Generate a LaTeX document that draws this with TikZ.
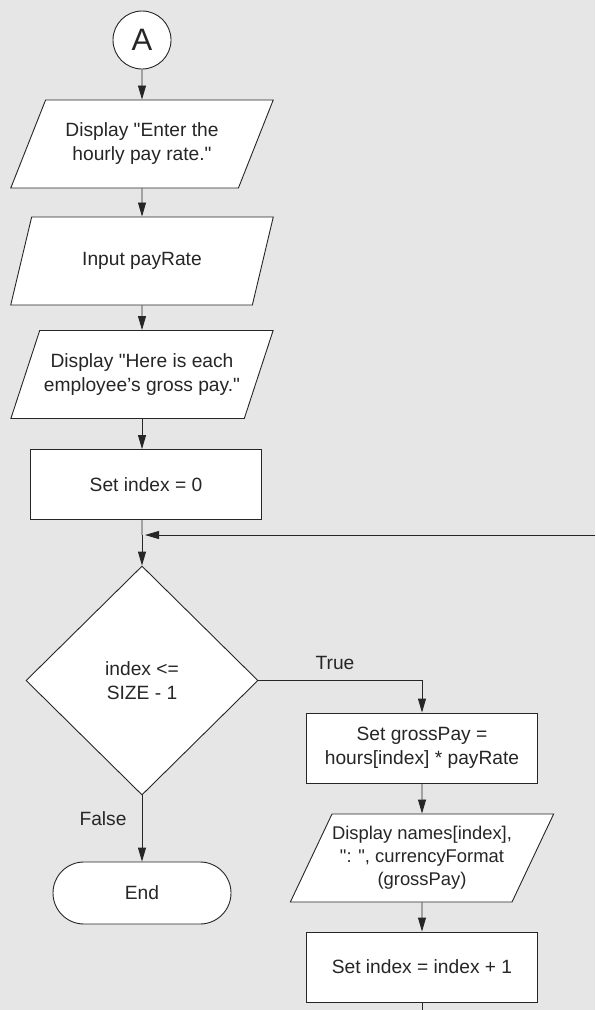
\documentclass[tikz,border=0pt]{standalone}
\usepackage{fontspec}
\setmainfont{Liberation Sans}[Ligatures=TeXOff]
\usetikzlibrary{shapes.geometric,arrows.meta}
\definecolor{bggray}{HTML}{E6E6E6}
\definecolor{ink}{HTML}{262626}

\begin{document}
\begin{tikzpicture}[x=1pt,y=-1pt,
  font=\fontsize{19.2}{24}\selectfont,
  every node/.style={text=ink},
  box/.style={draw=ink,fill=white,line width=0.9pt,inner sep=0pt,align=center},
  proc/.style={box,rectangle,minimum width=231pt,minimum height=70pt},
  io/.style={box,trapezium,trapezium left angle=56.6,trapezium right angle=123.4,
    trapezium stretches=true,minimum width=263pt,minimum height=88pt},
  decision/.style={box,diamond,minimum width=232pt,minimum height=229pt},
  term/.style={box,rectangle,rounded corners=31pt,minimum width=178pt,minimum height=62pt},
  conn/.style={box,circle,minimum size=58pt,font=\fontsize{31}{32}\selectfont},
  wire/.style={draw=ink,line width=0.9pt},
  flow/.style={wire,-{Triangle[length=14pt,width=8pt]}}]
  \fill[bggray] (0,0) rectangle (595,1010);
  \useasboundingbox (0,0) rectangle (595,1010);

  % left column
  \node[conn] (conA) at (142,40) {A};
  \node[io] (askRate) at (142,144) {Display "Enter the\\hourly pay rate."};
  \node[io] (inRate) at (142,261) {Input payRate};
  \node[io] (showHead) at (142,374.5) {Display "Here is each\\employee’s gross pay."};
  \node[proc] (setIdx) at (146,484.5) {Set index = 0};
  \node[decision] (test) at (142,680.5) {index <=\\SIZE - 1};
  \node[term] (stop) at (142,893) {End};

  % right column
  \node[proc] (calcPay) at (422,748) {Set grossPay =\\hours[index] * payRate};
  \node[io,font=\fontsize{18.4}{23}\selectfont] (showPay) at (422,858)
    {Display names[index],\\": ", currencyFormat\\(grossPay)};
  \node[proc] (incIdx) at (422,967) {Set index = index + 1};

  \coordinate (join) at (142,535);
  \coordinate (loopIn) at (595,535);
  \coordinate (loopOut) at (422,1010);

  \draw[flow] (conA.south) -- (askRate.north);
  \draw[flow] (askRate.south) -- (inRate.north);
  \draw[flow] (inRate.south) -- (showHead.north);
  \draw[flow] (showHead.south) -- (showHead.south |- setIdx.north);
  \draw[wire] (showHead.south |- setIdx.south) -- (join);
  \draw[flow] (join) -- (test.north);
  \draw[flow,shorten >=3pt] (loopIn) -- (join);
  \draw[flow] (test.east) -| (calcPay.north);
  \node (trueLbl) at (335,663) {True};
  \draw[flow] (test.south) -- (stop.north);
  \node (falseLbl) at (103,819) {False};
  \draw[flow] (calcPay.south) -- (showPay.north);
  \draw[flow] (showPay.south) -- (incIdx.north);
  \draw[wire] (incIdx.south) -- (loopOut);
\end{tikzpicture}
\end{document}
